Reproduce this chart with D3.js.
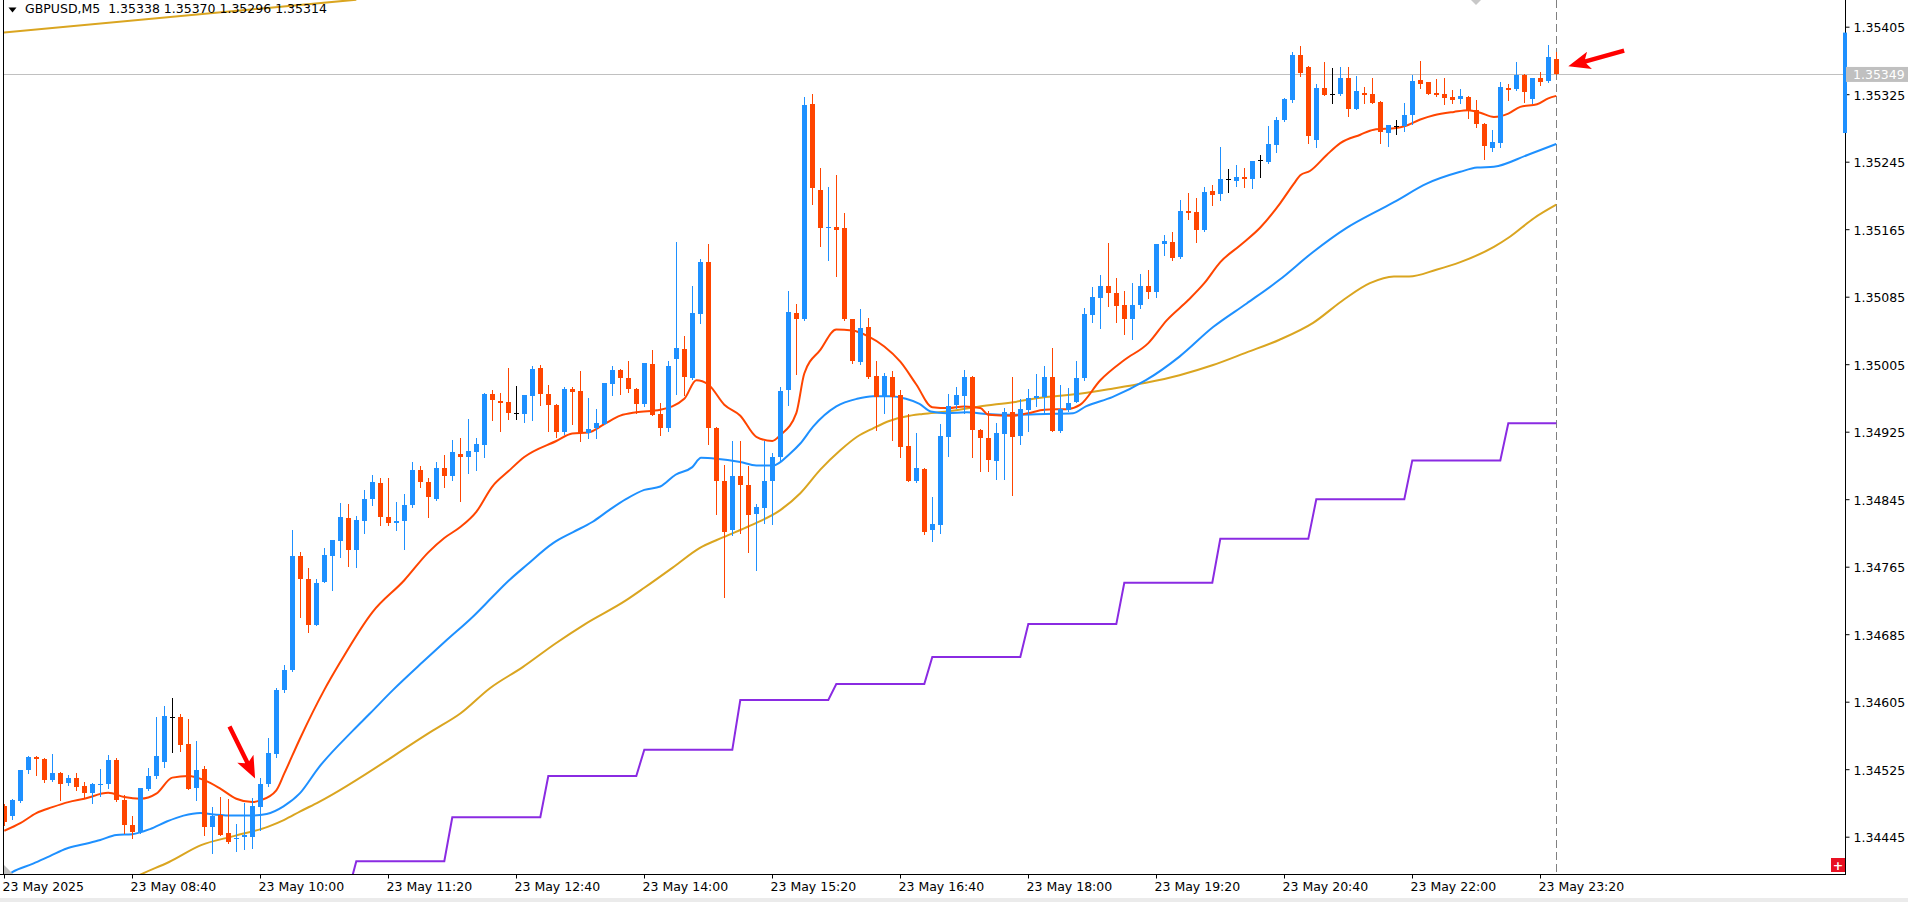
<!DOCTYPE html>
<html><head><meta charset="utf-8">
<script src="https://cdn.jsdelivr.net/npm/d3@7/dist/d3.min.js"></script>
<style>
body{margin:0;background:#fff;overflow:hidden}
svg{display:block}
text{font-family:'DejaVu Sans',sans-serif;font-size:12.5px}
</style></head>
<body><svg id="chart" width="1908" height="902"></svg>
<script>
// ---------- DATA ----------
const symbolTitle = "GBPUSD,M5";
const headerValues = ["1.35338", "1.35370", "1.35296", "1.35314"];
const bidPrice = 1.35349;

const openP = [
1.34481,1.34470,1.34487,1.34524,1.34539,1.34537,1.34512,1.34520,1.34509,1.34515,
1.34505,1.34497,1.34506,1.34508,1.34536,1.34488,1.34459,1.34451,1.34502,1.34517,
1.34534,1.34587,1.34587,1.34555,1.34503,1.34525,1.34457,1.34471,1.34449,1.34442,
1.34445,1.34445,1.34480,1.34507,1.34543,1.34619,1.34642,1.34778,1.34751,1.34696,
1.34747,1.34778,1.34796,1.34823,1.34785,1.34819,1.34845,1.34864,1.34824,1.34817,
1.34819,1.34838,1.34880,1.34865,1.34845,1.34882,1.34872,1.34899,1.34895,1.34901,
1.34909,1.34970,1.34961,1.34960,1.34947,1.34946,1.34967,1.35000,1.34970,1.34957,
1.34925,1.34976,1.34973,1.34924,1.34929,1.34934,1.34982,1.34998,1.34989,1.34976,
1.34958,1.35005,1.34946,1.34929,1.35011,1.35023,1.34989,1.35065,1.35126,1.34929,
1.34866,1.34808,1.34872,1.34862,1.34828,1.34834,1.34866,1.34895,1.34974,1.35066,
1.35058,1.35313,1.35212,1.35167,1.35168,1.35166,1.35058,1.35008,1.35049,1.34991,
1.34966,1.34990,1.34968,1.34908,1.34866,1.34881,1.34809,1.34815,1.34919,1.34957,
1.34967,1.34990,1.34927,1.34918,1.34890,1.34922,1.34948,1.34920,1.34951,1.34965,
1.34966,1.34990,1.34926,1.34951,1.34960,1.34989,1.35063,1.35084,1.35098,1.35089,
1.35075,1.35059,1.35075,1.35098,1.35090,1.35148,1.35150,1.35132,1.35187,1.35185,
1.35164,1.35210,1.35207,1.35224,1.35222,1.35227,1.35225,1.35247,1.35245,1.35265,
1.35294,1.35318,1.35371,1.35357,1.35271,1.35332,1.35325,1.35325,1.35344,1.35308,
1.35327,1.35325,1.35316,1.35279,1.35287,1.35287,1.35300,1.35342,1.35339,1.35326,
1.35325,1.35322,1.35319,1.35322,1.35306,1.35290,1.35261,1.35267,1.35332,1.35331,
1.35348,1.35319,1.35344,1.35341,1.35367];

const highP = [
1.34484,1.34490,1.34524,1.34541,1.34541,1.34538,1.34543,1.34522,1.34518,1.34520,
1.34510,1.34509,1.34525,1.34542,1.34538,1.34494,1.34470,1.34503,1.34527,1.34587,
1.34600,1.34609,1.34590,1.34584,1.34558,1.34529,1.34480,1.34492,1.34490,1.34460,
1.34485,1.34491,1.34514,1.34562,1.34621,1.34648,1.34808,1.34782,1.34763,1.34751,
1.34787,1.34797,1.34841,1.34839,1.34825,1.34856,1.34874,1.34870,1.34870,1.34842,
1.34851,1.34889,1.34884,1.34870,1.34889,1.34897,1.34915,1.34918,1.34940,1.34918,
1.34971,1.34974,1.34971,1.35000,1.34979,1.34969,1.35003,1.35004,1.34980,1.34958,
1.34978,1.34978,1.34997,1.34965,1.34952,1.34983,1.35003,1.34999,1.35009,1.34977,
1.35007,1.35022,1.34959,1.35009,1.35150,1.35038,1.35098,1.35130,1.35148,1.34930,
1.34885,1.34914,1.34914,1.34884,1.34839,1.34914,1.34900,1.34978,1.35092,1.35076,
1.35322,1.35325,1.35237,1.35215,1.35229,1.35184,1.35059,1.35071,1.35060,1.35009,
1.34995,1.34997,1.34974,1.34946,1.34923,1.34882,1.34848,1.34934,1.34970,1.34978,
1.34998,1.34991,1.34928,1.34950,1.34935,1.34953,1.34990,1.34964,1.34976,1.34993,
1.35003,1.35024,1.34980,1.34977,1.35009,1.35072,1.35097,1.35111,1.35149,1.35107,
1.35092,1.35101,1.35112,1.35117,1.35147,1.35158,1.35162,1.35200,1.35208,1.35202,
1.35215,1.35217,1.35262,1.35236,1.35241,1.35237,1.35246,1.35253,1.35287,1.35298,
1.35320,1.35375,1.35382,1.35358,1.35337,1.35363,1.35356,1.35357,1.35357,1.35346,
1.35333,1.35344,1.35317,1.35288,1.35294,1.35314,1.35348,1.35364,1.35340,1.35343,
1.35344,1.35330,1.35331,1.35323,1.35318,1.35291,1.35282,1.35339,1.35337,1.35363,
1.35349,1.35344,1.35351,1.35383,1.35375];

const lowP = [
1.34459,1.34466,1.34486,1.34521,1.34518,1.34510,1.34511,1.34488,1.34506,1.34500,
1.34491,1.34485,1.34493,1.34503,1.34487,1.34449,1.34444,1.34449,1.34500,1.34515,
1.34528,1.34545,1.34546,1.34501,1.34489,1.34447,1.34426,1.34447,1.34438,1.34428,
1.34431,1.34432,1.34453,1.34505,1.34540,1.34617,1.34641,1.34705,1.34688,1.34696,
1.34747,1.34737,1.34777,1.34766,1.34765,1.34805,1.34838,1.34814,1.34814,1.34808,
1.34786,1.34836,1.34860,1.34824,1.34844,1.34860,1.34868,1.34843,1.34876,1.34880,
1.34895,1.34939,1.34926,1.34940,1.34940,1.34936,1.34939,1.34957,1.34926,1.34919,
1.34922,1.34934,1.34914,1.34918,1.34917,1.34934,1.34968,1.34970,1.34972,1.34947,
1.34955,1.34945,1.34921,1.34926,1.34970,1.34968,1.34988,1.35054,1.34910,1.34828,
1.34729,1.34803,1.34805,1.34782,1.34761,1.34817,1.34816,1.34891,1.34957,1.34993,
1.35057,1.35195,1.35145,1.35128,1.35110,1.35057,1.35006,1.35005,1.34989,1.34927,
1.34947,1.34915,1.34895,1.34866,1.34865,1.34804,1.34795,1.34805,1.34896,1.34953,
1.34947,1.34895,1.34878,1.34878,1.34869,1.34869,1.34850,1.34910,1.34926,1.34955,
1.34947,1.34926,1.34925,1.34950,1.34960,1.34986,1.35055,1.35048,1.35074,1.35055,
1.35041,1.35035,1.35072,1.35084,1.35085,1.35135,1.35129,1.35131,1.35177,1.35150,
1.35163,1.35194,1.35200,1.35209,1.35216,1.35215,1.35214,1.35227,1.35244,1.35257,
1.35293,1.35316,1.35346,1.35267,1.35262,1.35324,1.35315,1.35324,1.35299,1.35307,
1.35314,1.35315,1.35267,1.35264,1.35278,1.35281,1.35290,1.35332,1.35325,1.35323,
1.35313,1.35314,1.35314,1.35297,1.35286,1.35248,1.35258,1.35263,1.35318,1.35330,
1.35316,1.35314,1.35336,1.35340,1.35349];

const closeP = [
1.34462,1.34488,1.34524,1.34539,1.34537,1.34512,1.34520,1.34507,1.34515,1.34504,
1.34497,1.34507,1.34508,1.34536,1.34488,1.34459,1.34451,1.34503,1.34517,1.34541,
1.34588,1.34587,1.34554,1.34502,1.34524,1.34457,1.34470,1.34447,1.34439,1.34444,
1.34447,1.34481,1.34507,1.34544,1.34619,1.34643,1.34778,1.34751,1.34696,1.34746,
1.34779,1.34797,1.34824,1.34785,1.34820,1.34845,1.34865,1.34824,1.34817,1.34819,
1.34838,1.34880,1.34865,1.34848,1.34882,1.34872,1.34901,1.34895,1.34902,1.34910,
1.34970,1.34962,1.34959,1.34947,1.34947,1.34968,1.34999,1.34970,1.34957,1.34925,
1.34976,1.34972,1.34924,1.34928,1.34935,1.34983,1.34998,1.34989,1.34976,1.34958,
1.35006,1.34945,1.34929,1.35003,1.35024,1.34990,1.35066,1.35126,1.34929,1.34866,
1.34806,1.34872,1.34862,1.34826,1.34836,1.34866,1.34895,1.34973,1.35067,1.35058,
1.35312,1.35214,1.35167,1.35168,1.35164,1.35058,1.35009,1.35048,1.34990,1.34966,
1.34991,1.34966,1.34907,1.34866,1.34882,1.34806,1.34816,1.34920,1.34956,1.34968,
1.34990,1.34927,1.34917,1.34891,1.34923,1.34948,1.34919,1.34952,1.34965,1.34967,
1.34990,1.34926,1.34952,1.34959,1.34989,1.35064,1.35085,1.35098,1.35089,1.35074,
1.35059,1.35075,1.35098,1.35090,1.35147,1.35151,1.35131,1.35186,1.35184,1.35164,
1.35209,1.35206,1.35224,1.35224,1.35227,1.35225,1.35246,1.35247,1.35266,1.35294,
1.35319,1.35371,1.35350,1.35275,1.35332,1.35324,1.35325,1.35344,1.35307,1.35329,
1.35324,1.35315,1.35280,1.35288,1.35287,1.35300,1.35341,1.35337,1.35325,1.35324,
1.35321,1.35318,1.35323,1.35306,1.35290,1.35264,1.35268,1.35333,1.35330,1.35348,
1.35328,1.35344,1.35340,1.35369,1.35349];

// moving averages: [bar index, price]
const maFast = [[0,1.34452],[2,1.34461],[4,1.34473],[6,1.34480],[8,1.34486],[10,1.34490],[13,1.34497],[15,1.34492],[17,1.34490],[19,1.34496],[21,1.34515],[23,1.34517],[25,1.34512],[27,1.34502],[29,1.34490],[31,1.34486],[32,1.34488],[34,1.34500],[35,1.34520],[37,1.34562],[40,1.34619],[42,1.34652],[46,1.34711],[50,1.34749],[53,1.34782],[55,1.34799],[57,1.34812],[59,1.34830],[61,1.34860],[63,1.34878],[65,1.34895],[69,1.34914],[71,1.34923],[73,1.34924],[75,1.34934],[77,1.34944],[79,1.34948],[82,1.34951],[85,1.34964],[86.5,1.34986],[88,1.34981],[90,1.34957],[92,1.34944],[94,1.34919],[96,1.34914],[97,1.34921],[99,1.34947],[100,1.34994],[102,1.35022],[104,1.35046],[106,1.35045],[108,1.35038],[110,1.35026],[112,1.35008],[114,1.34981],[116,1.34954],[118,1.34953],[120,1.34955],[122,1.34953],[123,1.34945],[126,1.34944],[128,1.34947],[130,1.34951],[133,1.34952],[134.5,1.34957],[137,1.34986],[140,1.35010],[143,1.35030],[145.3,1.35057],[148,1.35081],[150,1.35101],[152,1.35126],[154.5,1.35146],[157,1.35167],[159.5,1.35196],[161.2,1.35219],[162,1.35229],[163.2,1.35234],[165.3,1.35253],[167,1.35267],[169.5,1.35277],[171.2,1.35283],[174,1.35285],[175,1.35287],[177,1.35295],[178.7,1.35300],[181.2,1.35304],[183,1.35306],[184.5,1.35303],[186.2,1.35298],[188,1.35302],[189.5,1.35310],[191.6,1.35313],[193,1.35320],[194,1.35323]];

const maMid = [[0,1.34396],[1,1.34403],[3.6,1.34413],[5.7,1.34422],[7.8,1.34431],[9.9,1.34436],[12,1.34441],[14,1.34447],[16,1.34448],[18.2,1.34454],[20.3,1.34463],[22.4,1.34470],[24.5,1.34473],[26.5,1.34471],[28.6,1.34470],[30.7,1.34470],[32.8,1.34472],[34.9,1.34481],[36.9,1.34496],[39.3,1.34527],[43.6,1.34571],[45.7,1.34591],[48.6,1.34619],[52.3,1.34652],[55.3,1.34678],[58.6,1.34706],[61,1.34729],[63,1.34748],[65.3,1.34767],[68.6,1.34793],[71.1,1.34806],[73.5,1.34818],[75.6,1.34832],[77.7,1.34845],[80,1.34856],[82,1.34860],[83.9,1.34874],[86,1.34883],[87.1,1.34894],[89,1.34893],[92,1.34889],[94,1.34885],[96.1,1.34885],[98.2,1.34899],[99.5,1.34911],[101.1,1.34931],[104,1.34955],[106.6,1.34964],[108.6,1.34967],[110.7,1.34967],[112.7,1.34964],[114.4,1.34958],[115.8,1.34949],[117.8,1.34947],[120.3,1.34948],[122.8,1.34946],[126.1,1.34945],[130.2,1.34946],[133.6,1.34947],[135.2,1.34955],[138.5,1.34966],[142.7,1.34986],[146.9,1.35014],[151.1,1.35049],[155.3,1.35077],[159.4,1.35105],[163.6,1.35138],[167.7,1.35166],[171.9,1.35188],[173.7,1.35197],[177.8,1.35219],[182,1.35233],[184.1,1.35238],[186.2,1.35239],[190.4,1.35253],[194,1.35266]];

const maSlow = [[14,1.34385],[17,1.34400],[20.6,1.34415],[24.6,1.34435],[28.8,1.34446],[33,1.34457],[35,1.34465],[37,1.34475],[39.3,1.34486],[53.6,1.34571],[57,1.34591],[60.7,1.34621],[64.8,1.34646],[68.9,1.34674],[72.6,1.34697],[77.7,1.34725],[80,1.34740],[83.7,1.34765],[86.9,1.34787],[89.9,1.34800],[93.3,1.34814],[97,1.34832],[99.5,1.34852],[102,1.34880],[104.5,1.34903],[106.6,1.34919],[108.6,1.34929],[110.7,1.34938],[112.7,1.34943],[114.8,1.34946],[117.8,1.34949],[121.9,1.34955],[126.1,1.34960],[130.2,1.34966],[134.4,1.34970],[138.5,1.34976],[142.7,1.34983],[146.9,1.34992],[151.1,1.35004],[155.3,1.35019],[159.4,1.35034],[163.6,1.35054],[167.5,1.35082],[170.7,1.35101],[173.7,1.35109],[175.6,1.35109],[179,1.35117],[182,1.35126],[186.2,1.35144],[188.2,1.35156],[191.2,1.35178],[194,1.35194]];

// hourly step line (H1 value shown on M5): first bar of each hour and its level
const hourStartBar = [32,44,56,68,80,92,104,116,128,140,152,164,176,188];
const hourLevel = [1.34380,1.34416,1.34468,1.34517,1.34548,1.34607,1.34626,1.34658,1.34697,1.34746,1.34798,1.34845,1.34891,1.34935];

// trend line at top-left
const trendLine = [[-0.3,1.35398],[44,1.35437]];

// red arrow annotations: tip position and pointing angle (deg)
const arrows = [{bar:31.35, price:1.34514, angle:63.8},{bar:195.5, price:1.35358, angle:164.3}];

// price range indicator on the price scale
const rangeBar = [1.35279, 1.35398];

const priceTicks = [1.35405,1.35325,1.35245,1.35165,1.35085,1.35005,1.34925,1.34845,1.34765,1.34685,1.34605,1.34525,1.34445];
const timeTickBars = [0,16,32,48,64,80,96,112,128,144,160,176,192];
const timeTickLabels = ["23 May 2025","23 May 08:40","23 May 10:00","23 May 11:20","23 May 12:40","23 May 14:00","23 May 15:20","23 May 16:40","23 May 18:00","23 May 19:20","23 May 20:40","23 May 22:00","23 May 23:20"];

// ---------- DRAW ----------
const W = 1908, H = 902;
const plotL = 3, plotR = 1845, plotT = 0, plotB = 874;
const BULL = "#1E90FF", BEAR = "#FF4500";
const FS = 12.5;

const svg = d3.select("#chart");
svg.append("rect").attr("width", W).attr("height", H).attr("fill", "#fff");

const x = d3.scaleLinear().domain([0, 194]).range([4.3, 1556.3]);
const y = d3.scaleLinear().domain([1.34445, 1.35405]).range([836.7, 26.7]);

svg.append("defs").append("clipPath").attr("id", "clip")
  .append("rect").attr("x", plotL + 1).attr("y", plotT).attr("width", plotR - plotL - 1).attr("height", plotB - plotT);

const plot = svg.append("g").attr("clip-path", "url(#clip)");

// bid line
plot.append("line").attr("x1", plotL).attr("x2", plotR)
  .attr("y1", Math.round(y(bidPrice)) + 0.5).attr("y2", Math.round(y(bidPrice)) + 0.5)
  .attr("stroke", "#C0C0C0").attr("stroke-width", 1);

// last bar dashed vertical
const lastX = Math.floor(x(194)) + 0.5;
plot.append("line").attr("x1", lastX).attr("x2", lastX).attr("y1", 0).attr("y2", plotB)
  .attr("stroke", "#808080").attr("stroke-width", 1).attr("stroke-dasharray", "8,4");

// trend line
const lineGen = d3.line().x(d => x(d[0])).y(d => y(d[1]));
plot.append("path").attr("d", lineGen(trendLine)).attr("fill", "none")
  .attr("stroke", "#DAA520").attr("stroke-width", 2);

// hourly step line
const stepPts = [];
hourStartBar.forEach((b, j) => {
  const end = j < hourStartBar.length - 1 ? hourStartBar[j + 1] - 1 : 194;
  stepPts.push([b, hourLevel[j]], [end, hourLevel[j]]);
});
plot.append("path").attr("d", lineGen(stepPts)).attr("fill", "none")
  .attr("stroke", "#8A2BE2").attr("stroke-width", 2);

// moving averages
const maGen = d3.line().x(d => x(d[0])).y(d => y(d[1])).curve(d3.curveMonotoneX);
[[maSlow, "#DAA520"], [maMid, "#1E90FF"], [maFast, "#FF4500"]].forEach(([data, col]) => {
  plot.append("path").attr("d", maGen(data)).attr("fill", "none")
    .attr("stroke", col).attr("stroke-width", 2).attr("stroke-linejoin", "round");
});

// candles
const bars = d3.range(openP.length).map(i => ({i, o: openP[i], h: highP[i], l: lowP[i], c: closeP[i]}));
const cg = plot.append("g").attr("shape-rendering", "crispEdges");
const candle = cg.selectAll("g.c").data(bars).join("g").attr("class", "c");
const colOf = d => d.c > d.o ? BULL : (d.c < d.o ? BEAR : "#000");
candle.append("rect")
  .attr("x", d => Math.floor(x(d.i)))
  .attr("width", 1)
  .attr("y", d => Math.round(y(d.h)))
  .attr("height", d => Math.max(1, Math.round(y(d.l)) - Math.round(y(d.h)) + 1))
  .attr("fill", colOf);
candle.append("rect")
  .attr("x", d => Math.floor(x(d.i)) - 2)
  .attr("width", 5)
  .attr("y", d => Math.round(y(Math.max(d.o, d.c))))
  .attr("height", d => Math.max(1, Math.round(y(Math.min(d.o, d.c))) - Math.round(y(Math.max(d.o, d.c)))))
  .attr("fill", colOf);

// arrows
arrows.forEach(a => {
  const L = 58, hl = 22, hw = 9, sw = 2.2;
  const pts = [[0,0],[-hl,-hw],[-hl+4,-sw],[-L,-sw],[-L,sw],[-hl+4,sw],[-hl,hw]];
  plot.append("polygon")
    .attr("points", pts.map(p => p.join(",")).join(" "))
    .attr("transform", `translate(${x(a.bar)},${y(a.price)}) rotate(${a.angle})`)
    .attr("fill", "#FF0000");
});

// shift markers
svg.append("polygon").attr("points", `${plotL+1},865 ${plotL+1},${plotB} ${plotL+10},${plotB}`).attr("fill", "#C0C0C0");
svg.append("polygon").attr("points", "1471,0 1481,0 1476,5").attr("fill", "#C8C8C8");

// borders
const bg = svg.append("g").attr("shape-rendering", "crispEdges");
bg.append("line").attr("x1", plotL + 0.5).attr("x2", plotL + 0.5).attr("y1", 0).attr("y2", plotB).attr("stroke", "#000");

// right price axis
const yAxis = d3.axisRight(y).tickValues(priceTicks).tickFormat(d3.format(".5f")).tickSize(4).tickSizeOuter(0).tickPadding(4);
const ya = svg.append("g").attr("transform", `translate(${plotR + 0.5},0)`).call(yAxis);
ya.select(".domain").remove();
ya.selectAll("text").attr("font-family", "'DejaVu Sans',sans-serif").attr("font-size", FS).attr("fill", "#000").attr("dy", "0.4em");
ya.selectAll("line").attr("stroke", "#000");
bg.append("line").attr("x1", plotR + 0.5).attr("x2", plotR + 0.5).attr("y1", 0).attr("y2", plotB + 1).attr("stroke", "#000");

// range bar on price scale
svg.append("rect").attr("x", plotR - 2).attr("width", 4)
  .attr("y", y(rangeBar[1])).attr("height", y(rangeBar[0]) - y(rangeBar[1])).attr("fill", "#1E90FF");

// bid label
const by = y(bidPrice);
svg.append("rect").attr("x", plotR + 1).attr("y", by - 7).attr("width", W - plotR - 1).attr("height", 15).attr("fill", "#C0C0C0");
svg.append("text").attr("x", plotR + 8).attr("y", by + 5).attr("fill", "#fff").attr("font-size", FS).text(d3.format(".5f")(bidPrice));

// bottom time axis
const xAxis = d3.axisBottom(x).tickValues(timeTickBars).tickFormat((d, i) => timeTickLabels[i]).tickSize(4).tickSizeOuter(0);
const xa = svg.append("g").attr("transform", `translate(0,${plotB + 0.5})`).call(xAxis);
xa.select(".domain").remove();
xa.selectAll(".tick").attr("transform", d => `translate(${Math.floor(x(d)) + 0.5},0)`);
xa.selectAll("line").attr("stroke", "#000");
xa.selectAll("text").attr("font-family", "'DejaVu Sans',sans-serif").attr("font-size", FS).attr("fill", "#000")
  .attr("text-anchor", "start").attr("x", -2).attr("y", 16.5).attr("dy", 0);
bg.append("line").attr("x1", 0).attr("x2", plotR + 1).attr("y1", plotB + 0.5).attr("y2", plotB + 0.5).attr("stroke", "#000");

// red plus box
svg.append("rect").attr("x", 1831).attr("y", 858).attr("width", 14).attr("height", 14).attr("fill", "#E81123");
svg.append("text").attr("x", 1838).attr("y", 869.5).attr("text-anchor", "middle").attr("fill", "#fff").attr("font-size", 13).attr("font-weight", "bold").text("+");

// bottom strip
svg.append("rect").attr("x", 0).attr("y", 898).attr("width", W).attr("height", 4).attr("fill", "#EBEBEB");

// header
svg.append("polygon").attr("points", "8.5,7.5 16.5,7.5 12.5,12.5").attr("fill", "#000");
svg.append("text").attr("x", 25).attr("y", 13).attr("fill", "#000").attr("font-size", FS).attr("xml:space", "preserve")
  .text(symbolTitle + "  " + headerValues.join(" "));
</script>
</body></html>
